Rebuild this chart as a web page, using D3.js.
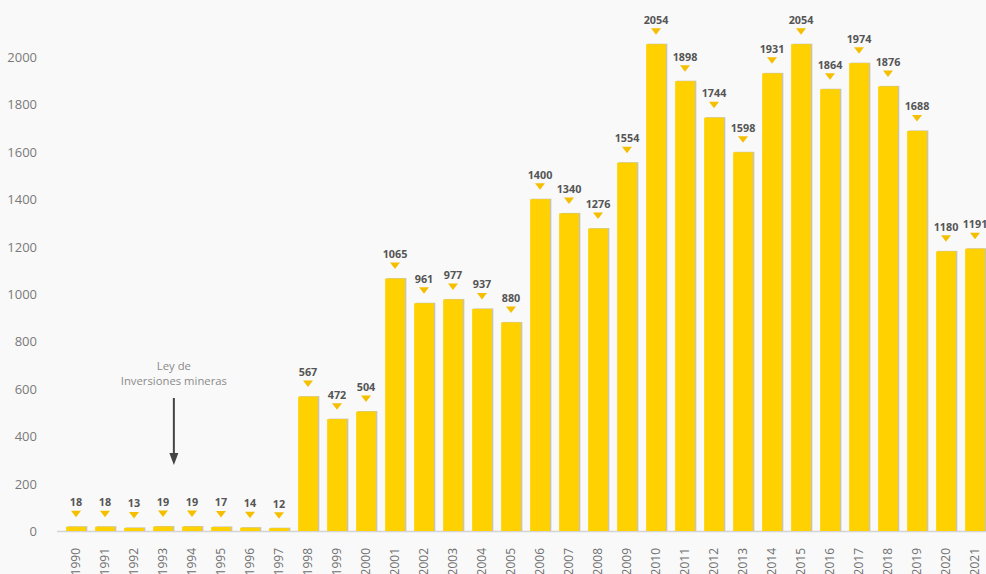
<!DOCTYPE html>
<html>
<head>
<meta charset="utf-8">
<script src="https://cdn.jsdelivr.net/npm/d3@7"></script>
<style>
  html, body { margin: 0; padding: 0; background: #f9f9f9; }
  svg { display: block; }
</style>
</head>
<body>
<svg id="chart" width="986" height="574"></svg>
<script>
const years = ["1990","1991","1992","1993","1994","1995","1996","1997","1998","1999","2000","2001","2002","2003","2004","2005","2006","2007","2008","2009","2010","2011","2012","2013","2014","2015","2016","2017","2018","2019","2020","2021"];
const values = [18,18,13,19,19,17,14,12,567,472,504,1065,961,977,937,880,1400,1340,1276,1554,2054,1898,1744,1598,1931,2054,1864,1974,1876,1688,1180,1191];
const yTicks = [0,200,400,600,800,1000,1200,1400,1600,1800,2000];
const noteLines = ["Ley de", "Inversiones mineras"];
const noteYear = "1993";

const svg = d3.select("#chart");
const W = 986, H = 574;
const baseY = 531;

const y = d3.scaleLinear().domain([0, 2000]).range([baseY, 57]);
const x = d3.scaleBand().domain(years).range([61.5, 989.5]).paddingInner(0.32).paddingOuter(0.16);

svg.append("rect").attr("width", W).attr("height", H).attr("fill", "#f9f9f9");

// y axis labels
svg.append("g").selectAll("text").data(yTicks).join("text")
  .attr("x", 37).attr("y", d => y(d) + 5)
  .attr("text-anchor", "end")
  .attr("font-family", "'Open Sans', sans-serif")
  .attr("font-size", 13)
  .attr("fill", "#7a7a7a")
  .text(d => d);

// baseline
svg.append("line").attr("x1", 57).attr("x2", W).attr("y1", baseY + 0.5).attr("y2", baseY + 0.5)
  .attr("stroke", "#d4d4d4").attr("stroke-width", 1.5);

const data = years.map((yr, i) => ({ yr, v: values[i] }));

// bar shadow
svg.append("g").selectAll("rect").data(data).join("rect")
  .attr("x", d => x(d.yr) + 1.5)
  .attr("y", d => y(d.v) - 0.5)
  .attr("width", x.bandwidth())
  .attr("height", d => baseY - y(d.v) + 0.5)
  .attr("fill", "#c9c4b0");

// bars
svg.append("g").selectAll("rect").data(data).join("rect")
  .attr("x", d => x(d.yr))
  .attr("y", d => y(d.v))
  .attr("width", x.bandwidth())
  .attr("height", d => baseY - y(d.v))
  .attr("fill", "#ffd100");

// triangles
svg.append("g").selectAll("path").data(data).join("path")
  .attr("d", d => {
    const cx = x(d.yr) + x.bandwidth() / 2;
    const top = y(d.v) - 16;
    return `M${cx - 5},${top}L${cx + 5},${top}L${cx},${top + 6.5}Z`;
  })
  .attr("fill", "#f5bf00");

// value labels
svg.append("g").selectAll("text").data(data).join("text")
  .attr("x", d => x(d.yr) + x.bandwidth() / 2)
  .attr("y", d => y(d.v) - 20.5)
  .attr("text-anchor", "middle")
  .attr("font-family", "'Open Sans', sans-serif")
  .attr("font-weight", 700)
  .attr("font-size", 10.8)
  .attr("fill", "#555")
  .text(d => d.v);

// year labels
svg.append("g").selectAll("text").data(years).join("text")
  .attr("transform", d => `translate(${x(d) + x.bandwidth() / 2 + 4},548) rotate(-90)`)
  .attr("text-anchor", "end")
  .attr("font-family", "'Open Sans', sans-serif")
  .attr("font-size", 12)
  .attr("fill", "#6f6f6f")
  .text(d => d);

// annotation
const noteX = x(noteYear) + x.bandwidth() + 1;
svg.append("g").selectAll("text").data(noteLines).join("text")
  .attr("x", noteX).attr("y", (d, i) => 370 + i * 15)
  .attr("text-anchor", "middle")
  .attr("font-family", "'Open Sans', sans-serif")
  .attr("font-size", 11.3)
  .attr("fill", "#8a8a8a")
  .text(d => d);

svg.append("line").attr("x1", noteX).attr("x2", noteX).attr("y1", 398).attr("y2", 456)
  .attr("stroke", "#444").attr("stroke-width", 2);
svg.append("path")
  .attr("d", `M${noteX - 4.5},${453}L${noteX + 4.5},${453}L${noteX},${465}Z`)
  .attr("fill", "#444");
</script>
</body>
</html>
